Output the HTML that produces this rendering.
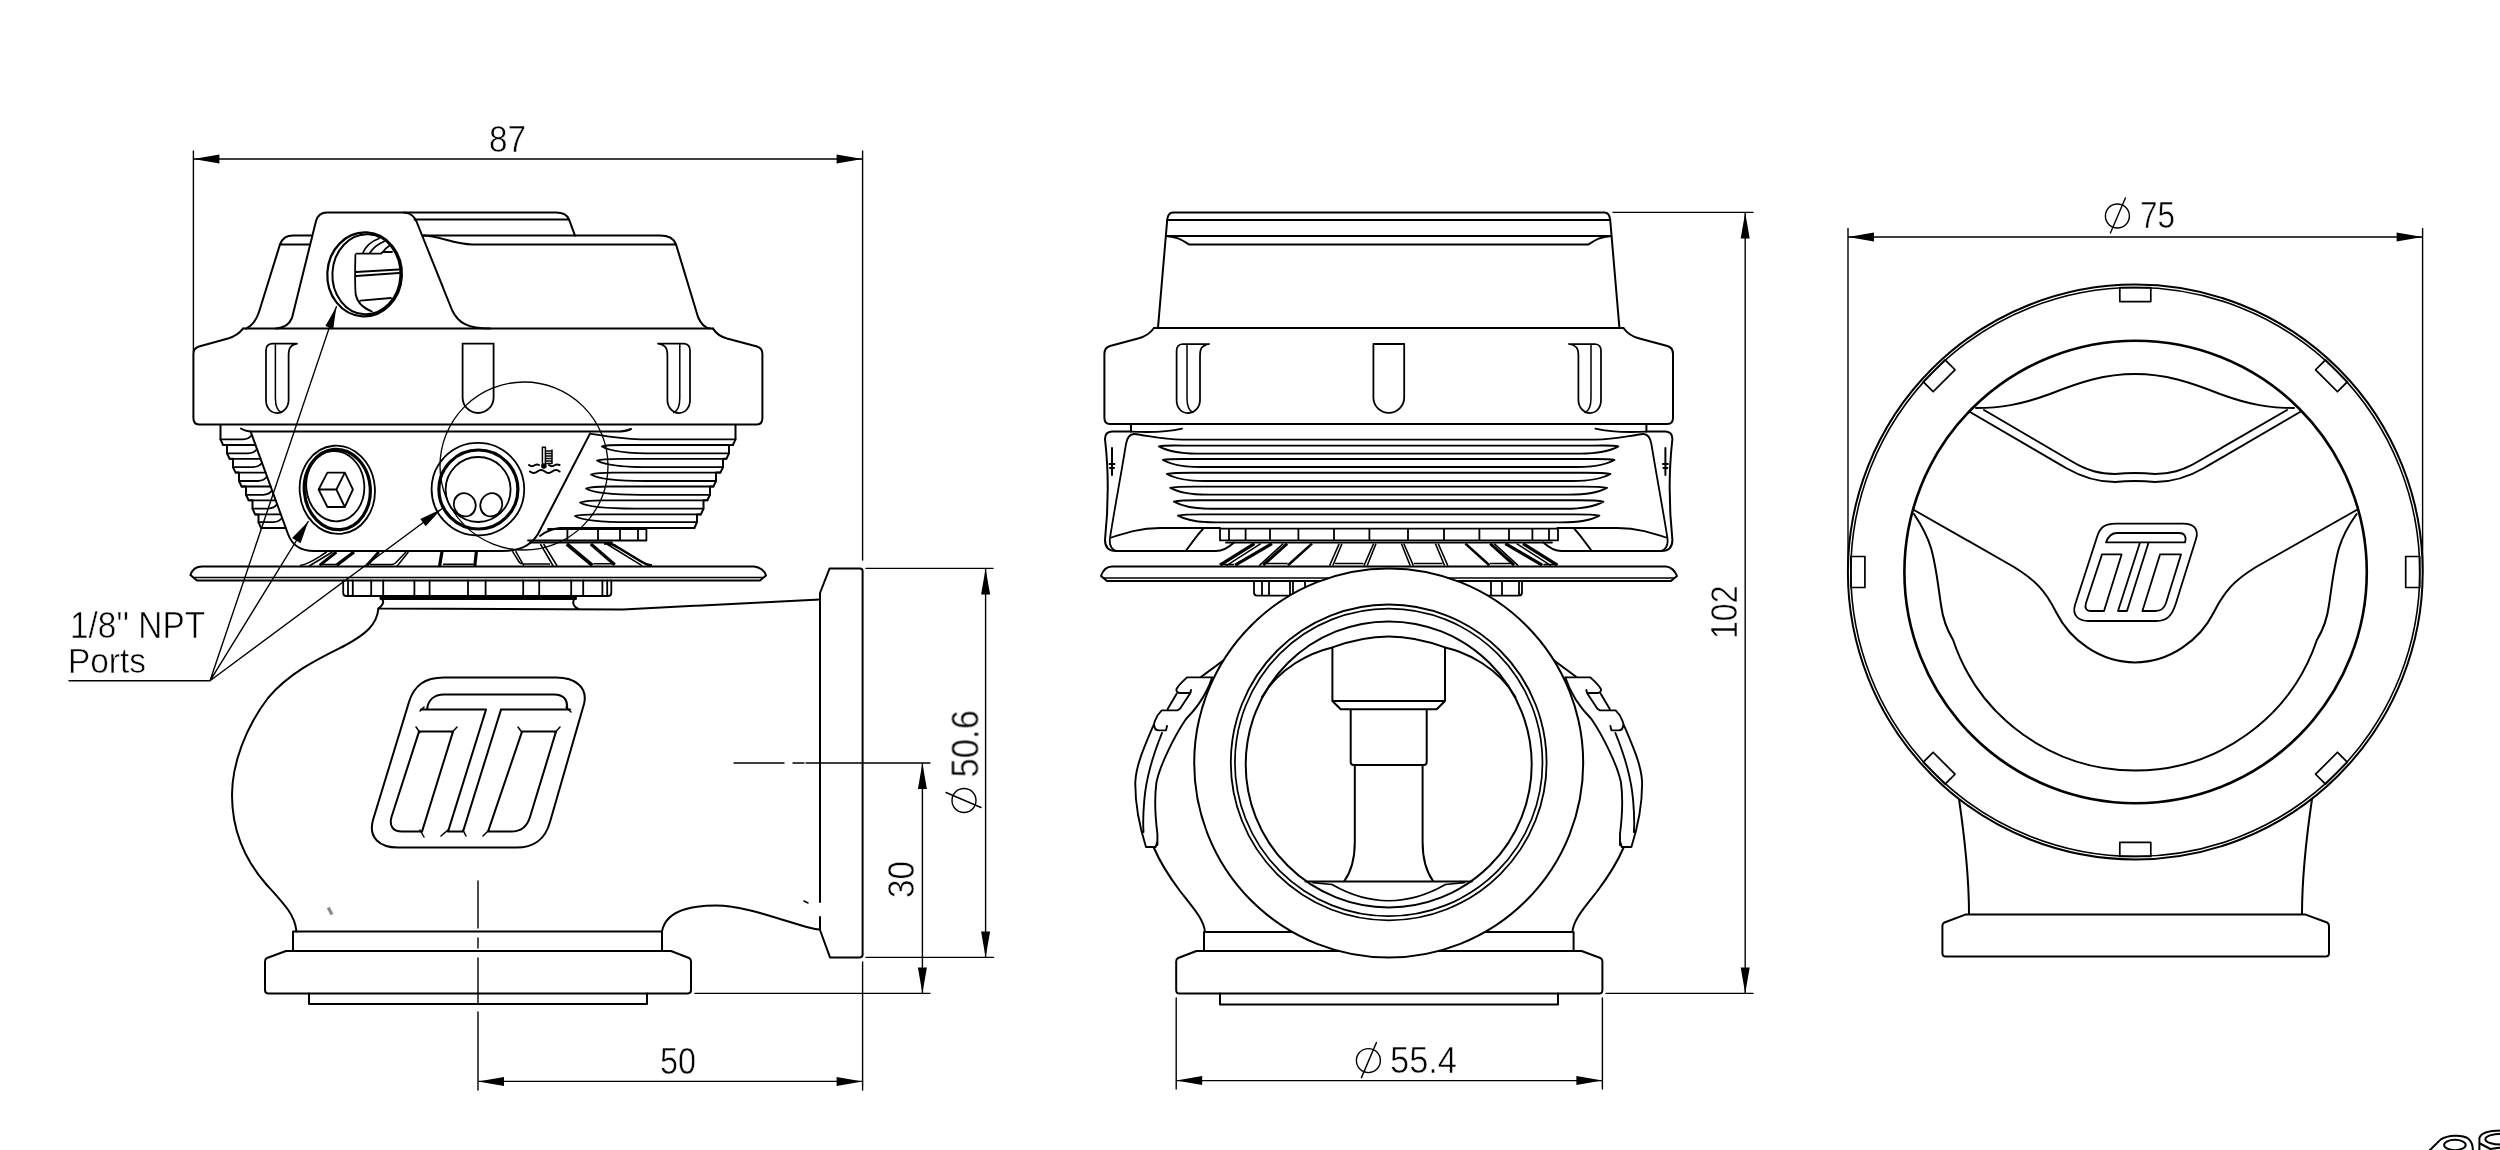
<!DOCTYPE html>
<html><head><meta charset="utf-8"><title>Wastegate dimensions</title>
<style>
html,body{margin:0;padding:0;background:#fff;}
body{width:2500px;height:1150px;overflow:hidden;font-family:"Liberation Sans",sans-serif;}
svg{display:block;}
</style></head><body>
<svg width="2500" height="1150" viewBox="0 0 2500 1150" fill="none" stroke="#000" stroke-width="2" stroke-linecap="round" stroke-linejoin="round" font-family="'Liberation Sans', sans-serif">
<rect x="0" y="0" width="2500" height="1150" fill="#fff" stroke="none"/>
<g id="dims" stroke-width="1.4">
<path d="M193.4,151 V352 M862.6,151 V560 M862.6,962 V1090 M193.4,159 H862.6"/>
<polygon points="193.4,159.0 219.4,154.5 219.4,163.5" fill="#000" stroke="none"/>
<polygon points="862.6,159.0 836.6,163.5 836.6,154.5" fill="#000" stroke="none"/>
<path d="M478,881 V928 M478,938 V948 M478,958 V1004 M478,1012 V1090 M478,1081.4 H862.6"/>
<polygon points="478.0,1081.4 504.0,1076.9 504.0,1085.9" fill="#000" stroke="none"/>
<polygon points="862.6,1081.4 836.6,1085.9 836.6,1076.9" fill="#000" stroke="none"/>
<path d="M734,763 H784 M793,763 H804 M806,763 H930 M695,993.4 H930 M922.4,763 V993.4"/>
<polygon points="922.4,763.0 926.9,789.0 917.9,789.0" fill="#000" stroke="none"/>
<polygon points="922.4,993.4 917.9,967.4 926.9,967.4" fill="#000" stroke="none"/>
<path d="M866,568.4 H993 M866,957.4 H993.6 M985.6,568.4 V957.4"/>
<polygon points="985.6,568.4 990.1,594.4 981.1,594.4" fill="#000" stroke="none"/>
<polygon points="985.6,957.4 981.1,931.4 990.1,931.4" fill="#000" stroke="none"/>
<g transform="rotate(-90 964 800.5)"><circle cx="964" cy="800.5" r="12"/><line x1="957" y1="817.5" x2="972" y2="782.5"/></g>
<path d="M1613,212.4 H1753 M1606,993.4 H1753 M1745.2,212.4 V993.4"/>
<polygon points="1745.2,212.4 1749.7,238.4 1740.7,238.4" fill="#000" stroke="none"/>
<polygon points="1745.2,993.4 1740.7,967.4 1749.7,967.4" fill="#000" stroke="none"/>
<path d="M1176.2,998 V1089 M1602.4,998 V1089 M1176.2,1080.6 H1602.4"/>
<polygon points="1176.2,1080.6 1202.2,1076.1 1202.2,1085.1" fill="#000" stroke="none"/>
<polygon points="1602.4,1080.6 1576.4,1085.1 1576.4,1076.1" fill="#000" stroke="none"/>
<g transform="rotate(0 1368.4 1060.6)"><circle cx="1368.4" cy="1060.6" r="12"/><line x1="1361.4" y1="1077.6" x2="1376.4" y2="1042.6"/></g>
<path d="M1848,228.4 V572 M2422.6,228.4 V572 M1848,237 H2422.6"/>
<polygon points="1848.0,237.0 1874.0,232.5 1874.0,241.5" fill="#000" stroke="none"/>
<polygon points="2422.6,237.0 2396.6,241.5 2396.6,232.5" fill="#000" stroke="none"/>
<g transform="rotate(0 2117.4 216)"><circle cx="2117.4" cy="216" r="12"/><line x1="2110.4" y1="233" x2="2125.4" y2="198"/></g>
<path d="M69,680.8 H210 M210,680.8 L336.4,306.6 M210,680.8 L308.2,521.5 M210,680.8 L441.5,509"/>
<polygon points="336.4,306.6 333.3,328.8 325.4,326.1" fill="#000" stroke="none"/>
<polygon points="308.2,521.5 300.6,543.3 292.1,538.0" fill="#000" stroke="none"/>
<polygon points="441.5,509.0 425.7,526.3 420.3,519.1" fill="#000" stroke="none"/>
<circle cx="524" cy="466" r="84" stroke-width="1.3"/>
</g>
<g id="texts" fill="#000" stroke="#fff" stroke-width="0.55" opacity="0.995" font-family="'Liberation Sans', sans-serif">
<text x="489" y="152" font-size="37" text-anchor="start" textLength="37" lengthAdjust="spacingAndGlyphs">87</text>
<text x="660" y="1074" font-size="37" text-anchor="start" textLength="36" lengthAdjust="spacingAndGlyphs">50</text>
<text x="914" y="898" font-size="36" text-anchor="start" textLength="37" lengthAdjust="spacingAndGlyphs" transform="rotate(-90 914 898)">30</text>
<text x="978" y="777.5" font-size="38" text-anchor="start" textLength="67.5" lengthAdjust="spacingAndGlyphs" transform="rotate(-90 978 777.5)">50.6</text>
<text x="1737.4" y="639" font-size="37" text-anchor="start" textLength="53.6" lengthAdjust="spacingAndGlyphs" transform="rotate(-90 1737.4 639)">102</text>
<text x="1390" y="1073" font-size="37" text-anchor="start" textLength="67" lengthAdjust="spacingAndGlyphs">55.4</text>
<text x="2140" y="228" font-size="36" text-anchor="start" textLength="35" lengthAdjust="spacingAndGlyphs">75</text>
<text x="70" y="637.8" font-size="37" text-anchor="start" textLength="135" lengthAdjust="spacingAndGlyphs">1/8'' NPT</text>
<text x="68" y="673" font-size="35" text-anchor="start" textLength="78" lengthAdjust="spacingAndGlyphs">Ports</text>
</g>
<g id="left">
<path d="M276,328.6 C284,328 289,325 292,318 L316,221 Q318.5,212.6 327,212.6 L556,212.6 Q566,212.6 569,219.4 L575,235.6"/>
<path d="M404,212.6 C411,213.2 414,216 416.5,221.5 L452,310 C458,323 468,328.6 490,328.6"/>
<path d="M414.6,219.4 H569"/>
<path d="M423,235.6 H660 C669,235.6 674,239 676,244.4 L698,317 C701,324 705,328 710,328.6"/>
<path d="M423,235.6 C440,236 455,244.4 472,244.4 H676"/>
<path d="M312,235.6 H293 C286,235.6 282,239 280,244.4 H310"/>
<path d="M280,244.4 L259,312 C256,321 252,326 246,328.6"/>
<path d="M243,328.6 H713"/>
<path d="M243,328.6 C238,335 233,337 228,338.5 L199,346.5 Q193.4,348 193.4,354 V418 Q193.4,424.4 199,424.4 H757 Q762.4,424.4 762.4,418 V354 Q762.4,348 757,346.5 L727,338.5 C722,337 717,335 713,328.6"/>
<path d="M241,428.5 Q245,431.4 252,431.4 H620 Q627,431 631,429"/>
<path d="M297,343.6 H272 Q266,344.0 266,350.6 V400 C266,408 271,413 277,413 C283.6,413 288.6,407 288.6,400 V355.6 C288.6,347.6 290.6,345.1 297,343.6" stroke-width="1.75"/><path d="M275.4,344.1 V398 C275.4,406 277.9,411 281.4,412.5" stroke-width="1.5"/>
<path d="M462.6,343.6 H493.6 V397.5 A15.5,15.5 0 0 1 462.6,397.5 Z" stroke-width="1.8"/>
<path d="M658,343.6 H684 Q690,344.0 690,350.6 V400 C690,408 685,413 679,413 C672.4,413 667.4,407 667.4,400 V355.6 C667.4,347.6 665.4,345.1 658,343.6" stroke-width="1.75"/><path d="M679.8,344.1 V398 C679.8,406 677.3,411 673.8,412.5" stroke-width="1.5"/>
<g transform="rotate(3 364.6 274.4)"><ellipse cx="364.6" cy="274.4" rx="37.3" ry="42" stroke-width="2.2"/><ellipse cx="366.4" cy="274.2" rx="34" ry="40"/></g>
<path d="M356.3,253.7 H381 L382.8,252 H392 M355.4,255 C355,270 355,285 355.6,294 C357,302 363,308 372,311.5 M356,272 L398.6,269.5 M356,276 L399,273 M360.4,300.7 L391,298 M362.8,253 C366,246 372,241 379,238.5 M369.8,253 C373,248 378,244 384,241.5 M383,252 C384.5,249.5 386.5,247.5 389,246" stroke-width="1.8"/>
<path d="M220.5,425 V439.4 L220.5,439.4 L223.1,445 H227 L227,453.4 L229.6,458.8 H233 L233,467.2 L235.6,472.6 H239 L239,481 L241.6,486.5 H246 L246,494.8 L248.6,500.3 H252.5 L252.5,508.6 L255.1,514.4 H258.5 L258.5,522.2 L261.1,528 "/>
<path d="M220.5,439.4 H242.9 q6,-0.4 8.8,-4.2 M223.1,445 H255.5 M227,453.4 H248.1 q6,-0.4 8.8,-4.2 M229.6,458.8 H260.5 M233,467.2 H253.1 q6,-0.4 8.8,-4.2 M235.6,472.6 H265.6 M239,481 H258.1 q6,-0.4 8.8,-4.2 M241.6,486.5 H270.7 M246,494.8 H263.2 q6,-0.4 8.8,-4.2 M248.6,500.3 H275.7 M252.5,508.6 H268.2 q6,-0.4 8.8,-4.2 M255.1,514.4 H280.8 M258.5,522.2 H273.2 q6,-0.4 8.8,-4.2 M261.1,528 H285.8 " stroke-width="1.8"/>
<path d="M735.5,425 V439.4 L735.5,439.4 L732.9,445 H729 L729,453.4 L726.4,458.8 H723 L723,467.2 L720.4,472.6 H716 L716,481 L713.4,486.5 H710 L710,494.8 L707.4,500.3 H703.5 L703.5,508.6 L700.9,514.4 H697 L697,522.2 L694.4,528 "/>
<path d="M735.5,439.4 H640 C620,439 605,436 590,433.6 M732.9,445 H624 C612,445 605,445.4 602,446.4 C610,451.4 632,453.4 657,453.4 H729 M726.4,458.8 H619 C607,458.8 600,459.5 597,460.5 C605,465.5 627,467.2 652,467.2 H723 M720.4,472.6 H613 C601,472.6 594,473.5 591,474.5 C599,479.5 621,481 646,481 H716 M713.4,486.5 H608 C596,486.5 589,487.5 586,488.5 C594,493.5 616,494.8 641,494.8 H710 M707.4,500.3 H602 C590,500.3 583,501.5 580,502.5 C588,507.5 610,508.6 635,508.6 H703.5 M700.9,514.4 H597 C585,514.4 578,515 575,516 C583,521 605,522.2 630,522.2 H697 M694.4,528 H560 C552,529 546,531 540,536" stroke-width="1.8"/>
<path d="M251,432.7 L288,534 C292,545 300,551 314,551 H502 C518,551 530,547 538,534 L590,433.6"/>
<path d="M548,529 H646.4 V540.5 H528 M567.4,529 V540.5 M598,529 V540.5 M620,529 V540.5 M638,529 V540.5 M530,542.6 H612" stroke-width="1.8"/>
<g transform="rotate(-5 337.3 489.8)"><ellipse cx="337.3" cy="489.8" rx="37.6" ry="44.2" stroke-width="1.8"/><ellipse cx="337.3" cy="489.5" rx="33" ry="40.2" stroke-width="3.2"/><ellipse cx="335.6" cy="486" rx="29" ry="35.2" stroke-width="1.8"/></g>
<path d="M327.4,472.6 H344.8 L352.9,489.5 L344.8,507 H327.4 L318.6,489.5 Z M318.6,489.5 H336.4 L344.8,472.6 M336.4,489.5 L344.8,507" stroke-width="1.8"/>
<circle cx="477.9" cy="489.2" r="46.3" stroke-width="1.8"/><circle cx="478.4" cy="489.5" r="39.5" stroke-width="3.2"/><circle cx="478.1" cy="489.5" r="32.5" stroke-width="1.8"/>
<ellipse cx="464.7" cy="504.8" rx="10.8" ry="11.8" transform="rotate(-25 464.7 504.8)" stroke-width="1.8"/><ellipse cx="491.3" cy="504.8" rx="10.8" ry="11.8" transform="rotate(25 491.3 504.8)" stroke-width="1.8"/>
<g stroke-width="1.2"><path d="M542.4,447.2 H545.4 V464 M542.4,447.2 V464 M546,451 H552 M546,453.5 H552 M546,456 H552 M546,458.5 H552 M546,461 H552 M546,463.4 H552 M552,450 V463.4" stroke-width="1.5"/><circle cx="543.9" cy="466" r="2.2" fill="#000"/><path d="M529,465 q3,2.4 6,0 q2,-1.2 4,0 M549,465 q3,2.4 6,0 q2,-1.2 4.5,0 M530,471.5 q3.6,3 7.4,0 t7.4,0 t7.4,0 t7.4,0" stroke-width="2"/></g>
<g stroke-linecap="butt"><path d="M336.4,552 L319.6,565.4" stroke-width="3"/><path d="M354,552 L336.4,565.4" stroke-width="3.4"/><path d="M378.8,552 L366.8,565.4" stroke-width="3"/><path d="M442,551.4 L439.6,566" stroke-width="3.2"/><path d="M476.4,551.4 L474.8,566" stroke-width="3.2"/><path d="M566.8,544 L592.4,565.4" stroke-width="3.6"/><path d="M590.8,544 L614.8,564.8" stroke-width="3.2"/><path d="M604,543.4 C612,543.6 614,545 618,547.5 L642,562 C646,564.5 648,565.4 652,565.6" stroke-width="2.6"/><g stroke-width="1.5"><path d="M326.8,552 C318,557 312,563 300,565.6 M332.4,552 L309.2,566 M406,552 L395.5,563 Q394,564.4 391,564.4 H370 M408.4,552 L397.2,566 M322,564.4 H336 M443,564.2 H473.5 M512.4,551.2 L519.4,562.5 Q520.6,564 523.5,564 H550 M515.6,551.2 L523.8,565.6 M540.4,544 L553.2,566 M543.6,544 L557.2,566 M593.5,563.8 H612.5 M606.8,544 L642,565.6"/></g></g>
<path d="M202,566.4 H754 C760,567 765,571 766,575.5 L760,580.5 H197 L190.4,575 C192,570 196,566.4 202,566.4 Z"/><path d="M193,577.4 H763" stroke-width="1.5"/>
<path d="M343.2,580.5 V593 Q343.2,596 346.5,596 H608 Q611.3,596 611.3,593 V580.5 M348,580.5 V596 M352.8,580.5 V596 M371.2,580.5 V596 M383.2,580.5 V596 M414.4,580.5 V596 M429.6,580.5 V596 M468,580.5 V596 M485.6,580.5 V596 M523.2,580.5 V596 M539.2,580.5 V596 M571.2,580.5 V596 M583.2,580.5 V596 M602.4,580.5 V596 M607.2,580.5 V596 " stroke-width="1.8"/>
<path d="M381,598.4 H575.5" stroke-width="3"/>
<path d="M380,596.5 C384.5,600 384.5,604 378.4,608.5 L623,609.5 L820,599.4 M576,597 C571.5,601 572.5,606 578.4,609"/>
<path d="M378.4,608.5 C377,625 365,635 344,646 C320,658 290,672 268,698 C245,728 232,765 232,795 C232,830 245,860 266,884 C285,905 295,915 296.4,931.4"/>
<path d="M293,951 V931.4 H662 V951"/>
<path d="M286,951 H671 L689,958 Q691,959 691,961.5 V990 Q691,993.4 688,993.4 H268 Q265,993.4 265,990 V961.5 Q265,959 267,958 Z"/>
<path d="M309,993.4 V1004 H647 V993.4"/>
<path d="M662,931.4 C664,920 672,913 686,909 C695,906.5 705,905.6 716,905.6 C745,906 775,918 800,925 C808,927.5 814,929 819,929.6"/>
<path d="M820,902 V593 L829.6,568.4 H860 Q862.6,568.4 862.6,571 V954.6 Q862.6,957.4 860,957.4 H830 L820,930 V917"/>
<path d="M328.2,907.5 L332,914.5" stroke="#8a8a8a" stroke-width="3.2" stroke-linecap="butt"/><path d="M804,901 L808,903" stroke-width="1.6"/>
<path d="M444,677.6 H556 C576,677.6 588,688 584,704 L550,822 C545,840 534,847.6 516,847.6 H398 C380,847.6 368,838 373,820 L409,702 C414,686 424,677.6 444,677.6 Z"/>
<path d="M421,709.6 H486 M501,709.6 H570 M427,709.6 C428,700 434,694.4 444,694.4 H554 C564,694.4 568,700 567,709.6 M486,709.6 L448,831.6 H463 L501,709.6 M419,731.6 H453 L422,831.6 H402 C393,831.6 389,826 391.5,817 Z M522,731.6 H556 L530,817 C527,827 521,831.6 511,831.6 H488 Z"/>
<path d="M416,727 L420,732.5 M457,727 L452,732.5 M518,727 L522,732.5 M560,727 L555,732.5 M420,830 L424,837 M448,830 L441,836 M463,830 L466,836 M489,830 L483,836 M566,707 L571,712 M424,707 L420,711" stroke-width="1.5"/>
</g>
<g id="front">
<path d="M1158,327.6 L1167.2,220 Q1167.8,212.4 1173,212.4 H1604.4 Q1609.6,212.4 1610.2,220 L1619.4,327.6"/>
<path d="M1167.2,220 H1610.2 M1166,236 H1611.4 M1166,236 C1178,237 1182,240 1189,244.4 H1588.4 C1595.4,240 1599.4,237 1611.4,236 M1154,328 H1623.4"/>
<path d="M1154,328 C1149,335 1144,337 1138,338.5 L1110,346 Q1104.4,347.5 1104.4,354 V418 Q1104.4,424 1110,424 H1667.4 Q1673,424 1673,418 V354 Q1673,347.5 1667.4,346 L1639.4,338.5 C1633.4,337 1628.4,335 1623.4,328"/>
<path d="M1209,344 H1182.6 Q1176.6,344.4 1176.6,351 V400 C1176.6,408 1181.6,413 1187.6,413 C1195,413 1200,407 1200,400 V356 C1200,348 1202,345.5 1209,344" stroke-width="1.75"/><path d="M1187,344.5 V398 C1187,406 1189.5,411 1193,412.5" stroke-width="1.5"/>
<path d="M1373.4,344 H1404.2 V397.6 A15.399999999999977,15.399999999999977 0 0 1 1373.4,397.6 Z" stroke-width="1.8"/>
<path d="M1569,344 H1595 Q1601,344.4 1601,351 V400 C1601,408 1596,413 1590,413 C1583.4,413 1578.4,407 1578.4,400 V356 C1578.4,348 1576.4,345.5 1569,344" stroke-width="1.75"/><path d="M1591,344.5 V398 C1591,406 1588.5,411 1585,412.5" stroke-width="1.5"/>
<path d="M1131,424 V431.6 M1131,431.6 H1112 Q1105,432 1105,439 C1108.6,470 1108.6,505 1105,540 Q1105,551 1116,551 H1216 C1224,551 1229,547 1234,542.4"/><path d="M1134,434 Q1127.6,434.4 1126,444 C1121,475 1114,512 1110,538 C1109,545 1111,549 1116,551 M1110,538 C1125,533 1140,528 1160,528 H1220 M1203,529 C1197,535 1192,543 1186,550.5 M1131,431.6 C1150,432.5 1170,431.5 1182,428.6" stroke-width="1.8"/><path d="M1112,448 V475 M1109.5,464 H1114.5 M1110,468 H1114" stroke-width="2"/>
<path d="M1646.4,424 V431.6 M1646.4,431.6 H1665.4 Q1672.4,432 1672.4,439 C1668.8000000000002,470 1668.8000000000002,505 1672.4,540 Q1672.4,551 1661.4,551 H1561.4 C1553.4,551 1548.4,547 1543.4,542.4"/><path d="M1643.4,434 Q1649.8000000000002,434.4 1651.4,444 C1656.4,475 1663.4,512 1667.4,538 C1668.4,545 1666.4,549 1661.4,551 M1667.4,538 C1652.4,533 1637.4,528 1617.4,528 H1557.4 M1574.4,529 C1580.4,535 1585.4,543 1591.4,550.5 M1646.4,431.6 C1627.4,432.5 1607.4,431.5 1595.4,428.6" stroke-width="1.8"/><path d="M1665.4,448 V475 M1667.9,464 H1662.9 M1667.4,468 H1663.4" stroke-width="2"/>
<path d="M1134,434 C1148,435.5 1162,439.6 1182,439.6 H1595.4 C1615.4,439.6 1629.4,435.5 1643.4,434 M1159,446.4 C1164,445.2 1171,445.6 1184,445.6 H1593.4 C1606.4,445.6 1613.4,445.2 1618.4,446.4 C1610.4,450.9 1596.4,453.6 1580.4,453.6 H1197 C1181,453.6 1167,450.9 1159,446.4 M1163,460 C1168,458.8 1175,459 1188,459 H1589.4 C1602.4,459 1609.4,458.8 1614.4,460 C1606.4,464.5 1592.4,467 1576.4,467 H1201 C1185,467 1171,464.5 1163,460 M1167,474 C1172,472.8 1179,472.8 1192,472.8 H1585.4 C1598.4,472.8 1605.4,472.8 1610.4,474 C1602.4,478.5 1588.4,481 1572.4,481 H1205 C1189,481 1175,478.5 1167,474 M1170.4,487.8 C1175.4,486.6 1182.4,486.6 1195.4,486.6 H1582.0 C1595.0,486.6 1602.0,486.6 1607.0,487.8 C1599.0,492.3 1585.0,494.6 1569.0,494.6 H1208.4 C1192.4,494.6 1178.4,492.3 1170.4,487.8 M1174,501.6 C1179,500.40000000000003 1186,500.2 1199,500.2 H1578.4 C1591.4,500.2 1598.4,500.40000000000003 1603.4,501.6 C1595.4,506.1 1581.4,508.8 1565.4,508.8 H1212 C1196,508.8 1182,506.1 1174,501.6 M1178,515.6 C1183,514.4 1190,514.4 1203,514.4 H1574.4 C1587.4,514.4 1594.4,514.4 1599.4,515.6 C1591.4,520.1 1577.4,522.4 1561.4,522.4 H1216 C1200,522.4 1186,520.1 1178,515.6 " stroke-width="1.9"/>
<path d="M1220,528.6 H1558 V540.4 H1220 Z M1226,542.6 H1552 M1229,528.6 V540.4 M1245.6,528.6 V540.4 M1270,528.6 V540.4 M1298.4,528.6 V540.4 M1334,528.6 V540.4 M1369.4,528.6 V540.4 M1408,528.6 V540.4 M1444,528.6 V540.4 M1479.4,528.6 V540.4 M1509,528.6 V540.4 M1532.4,528.6 V540.4 M1549,528.6 V540.4 " stroke-width="1.8"/>
<g stroke-linecap="butt"><path d="M1254.4,543.6 L1220,565.2" stroke-width="3.2"/><path d="M1523.0,543.6 L1557.4,565.2" stroke-width="3.2"/><path d="M1272,543.6 L1235.2,565.2" stroke-width="3.2"/><path d="M1505.4,543.6 L1542.2,565.2" stroke-width="3.2"/><path d="M1287.2,543.6 L1263.2,565.2" stroke-width="3"/><path d="M1490.2,543.6 L1514.2,565.2" stroke-width="3"/><path d="M1312,543.6 L1288,565.2" stroke-width="2.6"/><path d="M1465.4,543.6 L1489.4,565.2" stroke-width="2.6"/><path d="M1260.8,543.6 L1226.4,565.6 M1516.6,543.6 L1551.0,565.6 M1283.2,543.6 L1259.2,565.6 M1494.2,543.6 L1518.2,565.6 M1339.2,543.6 L1329.6,565.6 M1438.2,543.6 L1447.8,565.6 M1342,543.6 L1332.8,565.6 M1435.4,543.6 L1444.6,565.6 M1373.6,543.6 L1364,565.6 M1403.8,543.6 L1413.4,565.6 M1376,543.6 L1367.2,565.6 M1401.4,543.6 L1410.2,565.6 M1266.4,563.6 H1287.6 M1335,563.6 H1363.4 M1511.0,563.6 H1489.8 M1442.4,563.6 H1414.0 M1222,564.4 H1234 M1555.4,564.4 H1543.4" stroke-width="1.5"/></g>
<path d="M1224,660 L1201,677 M1154,848 C1160,862 1168,875 1180,891 C1195,910 1204,920 1205,932"/><path d="M1212,677.4 H1187 C1182,682 1178,686 1176.5,689 Q1176,693 1180,693 H1190.4 L1191,690 M1190.4,693 L1180,708.7 L1177.4,710.4 H1161.7 C1158,714 1155,720 1154,724 Q1154,730.4 1159,730.4 H1166 L1167,726 M1176.5,694 L1167.8,708.7 M1154,724 C1145,745 1136,765 1135.3,782 C1135,805 1139,825 1146,847 H1155.7 L1157.4,841 M1162,733 C1153,755 1146,780 1144.3,800 C1143,815 1143,825 1143.5,832 H1141.6 M1212.2,677.4 C1208,690 1200,705 1186,719 C1175,735 1160,765 1156.5,782 C1154,800 1155,815 1157.4,834 V845" stroke-width="1.9"/>
<path d="M1553.4,660 L1576.4,677 M1623.4,848 C1617.4,862 1609.4,875 1597.4,891 C1582.4,910 1573.4,920 1572.4,932"/><path d="M1565.4,677.4 H1590.4 C1595.4,682 1599.4,686 1600.9,689 Q1601.4,693 1597.4,693 H1587.0 L1586.4,690 M1587.0,693 L1597.4,708.7 L1600.0,710.4 H1615.7 C1619.4,714 1622.4,720 1623.4,724 Q1623.4,730.4 1618.4,730.4 H1611.4 L1610.4,726 M1600.9,694 L1609.6000000000001,708.7 M1623.4,724 C1632.4,745 1641.4,765 1642.1000000000001,782 C1642.4,805 1638.4,825 1631.4,847 H1621.7 L1620.0,841 M1615.4,733 C1624.4,755 1631.4,780 1633.1000000000001,800 C1634.4,815 1634.4,825 1633.9,832 H1635.8000000000002 M1565.2,677.4 C1569.4,690 1577.4,705 1591.4,719 C1602.4,735 1617.4,765 1620.9,782 C1623.4,800 1622.4,815 1620.0,834 V845" stroke-width="1.9"/>
<path d="M1204,951 V932 H1573.6 V951"/>
<path d="M1196.4,951 H1581.6 L1600.4,958 Q1602.4,959 1602.4,961.5 V990 Q1602.4,993.6 1599,993.6 H1179.5 Q1176.2,993.6 1176.2,990 V961.5 Q1176.2,959 1178.2,958 Z"/>
<path d="M1220,993.6 V1004.4 H1558 V993.6"/>
<path d="M1112,566.4 H1666 C1671,567 1675,571 1677,576 L1671,581 H1107 L1101,576 C1103,570 1106,566.4 1112,566.4 Z"/><path d="M1104,578 H1674" stroke-width="1.5"/>
<path d="M1254,581 V592.6 Q1254,595.6 1257,595.6 H1310 M1262,581 V595.6 M1269,581 V595.6 M1290,581 V595.6 M1293,581 V595.6 M1305,581 V595.6 M1470,595.6 H1519 Q1522,595.6 1522,592.6 V581 M1519,581 V595.6 M1502,581 V595.6 M1491,581 V595.6" stroke-width="1.8"/>
<circle cx="1388.7" cy="763" r="194.5" fill="#fff"/>
<circle cx="1388.7" cy="762.4" r="157.9" stroke-width="1.8"/><circle cx="1388.7" cy="762.4" r="153.8" stroke-width="1.7"/><circle cx="1388.7" cy="764.4" r="143"/>
<path d="M1262,697 C1279,668 1310,652.5 1332.4,647.4 C1350,641 1370,636.5 1388.7,636.5 C1407.4,636.5 1427.4,641 1445.0,647.4 C1467.4,652.5 1498.4,668 1515.4,697"/>
<path d="M1332.4,647.4 V701 L1340.7,709.2 H1436.7 L1445.0,701 V647.4 M1332.4,701 H1445.0 M1350.7,709.2 V762 Q1350.7,765 1353.7,765 H1423.7 Q1426.7,765 1426.7,762 V709.2 M1354.8,766 V842 C1354.8,860 1351,872 1344,881.5 M1422.6000000000001,766 V842 C1422.6000000000001,860 1426.4,872 1433.4,881.5 M1305.5,881.5 H1471.9"/>
<path d="M1332,884.5 Q1388.7,917 1445.4,884.5 M1313,882.6 L1332,884.5 M1464.4,882.6 L1445.4,884.5" stroke-width="1.7"/>
</g>
<g id="right">
<path d="M1959,799 C1965,840 1969,880 1969,914 M2312,799 C2306,840 2302,880 2302,914"/>
<path d="M1966,914.4 H2305 L2327,922.5 Q2329,923.5 2329,926 V953 Q2329,956.6 2325.4,956.6 H1946 Q1942.4,956.6 1942.4,953 V926 Q1942.4,923.5 1944.4,922.5 Z"/>
<circle cx="2135.3" cy="572" r="287.4" fill="#fff" stroke-width="2"/><circle cx="2135.3" cy="572" r="284.5" stroke-width="1.6"/>
<circle cx="2135.6000000000004" cy="572" r="231.2" stroke-width="2.6"/>
<rect x="2119.8" y="287.6" width="31" height="14" transform="rotate(0 2135.3 572)" stroke-width="1.7"/>
<rect x="2119.8" y="287.6" width="31" height="14" transform="rotate(45 2135.3 572)" stroke-width="1.7"/>
<rect x="2119.8" y="287.6" width="31" height="14" transform="rotate(90 2135.3 572)" stroke-width="1.7"/>
<rect x="2119.8" y="287.6" width="31" height="14" transform="rotate(135 2135.3 572)" stroke-width="1.7"/>
<rect x="2119.8" y="287.6" width="31" height="14" transform="rotate(180 2135.3 572)" stroke-width="1.7"/>
<rect x="2119.8" y="287.6" width="31" height="14" transform="rotate(225 2135.3 572)" stroke-width="1.7"/>
<rect x="2119.8" y="287.6" width="31" height="14" transform="rotate(270 2135.3 572)" stroke-width="1.7"/>
<rect x="2119.8" y="287.6" width="31" height="14" transform="rotate(315 2135.3 572)" stroke-width="1.7"/>
<path d="M1914,514 C1922,526 1928,538 1931,548 C1936,565 1938,585 1941,605 C1943,620 1947,630 1953.1,640 A192,192 0 0 0 2316.9,640 C2323,630 2327,620 2329,605 C2332,585 2334,565 2339,548 C2342,538 2348,526 2356.6,514"/>
<path d="M1914,510 L2014,567 C2035,580 2045,590 2056,612 C2070,640 2100,662.4 2135,662.4 C2170,662.4 2200,640 2214,612 C2225,590 2235,580 2256,567 L2356.6,510"/>
<path d="M1976,408 C2000,408 2020,405 2050,394 C2080,382 2105,374 2135,374 C2165,374 2190,382 2220,394 C2250,405 2270,408 2294,408"/>
<path d="M1970,412 L2066,468 C2085,479 2100,482 2115,482 Q2135,480 2155,482 C2170,482 2185,479 2204,468 L2300,412"/>
<path d="M1984,410 L2072,461.5 C2088,471 2100,474 2115,474 Q2135,472 2155,474 C2170,474 2182,471 2198,461.5 L2287,410"/>
<path d="M2116,523.6 H2183 C2194,523.6 2199,529 2196,539 L2176,603 C2172,616 2167,621 2156,621 H2089 C2078,621 2072,615 2075,605 L2097,537 C2100,527 2105,523.6 2116,523.6 Z" stroke-width="1.8"/>
<path d="M2106,542.4 H2185 C2186.5,537 2185,533 2179,533 H2117 C2111,533 2108,537 2106,542.4 Z M2140,542.4 L2118,611 H2127 L2148.6,542.4 M2102,554.4 H2121.6 L2104,611 H2091 C2086,611 2084.5,608 2086,603 Z M2160,554.4 H2181 L2166,603 C2164,609 2161,611 2155,611 H2142.4 Z" stroke-width="1.8"/>
<g stroke-width="2"><path d="M2429,1151 L2440.5,1139.6 C2448,1135 2462,1134.5 2468,1138.5 C2472,1141.5 2472.6,1145 2473,1151"/><ellipse cx="2454.9" cy="1145" rx="10.8" ry="5.2"/><path d="M2479.4,1151 V1138 C2481,1133 2490,1130.5 2501,1130.5 M2480,1143.5 L2490.4,1149 L2501,1147.6"/><ellipse cx="2501" cy="1139.2" rx="15.6" ry="5.4"/></g>
</g>
</svg>
</body></html>
